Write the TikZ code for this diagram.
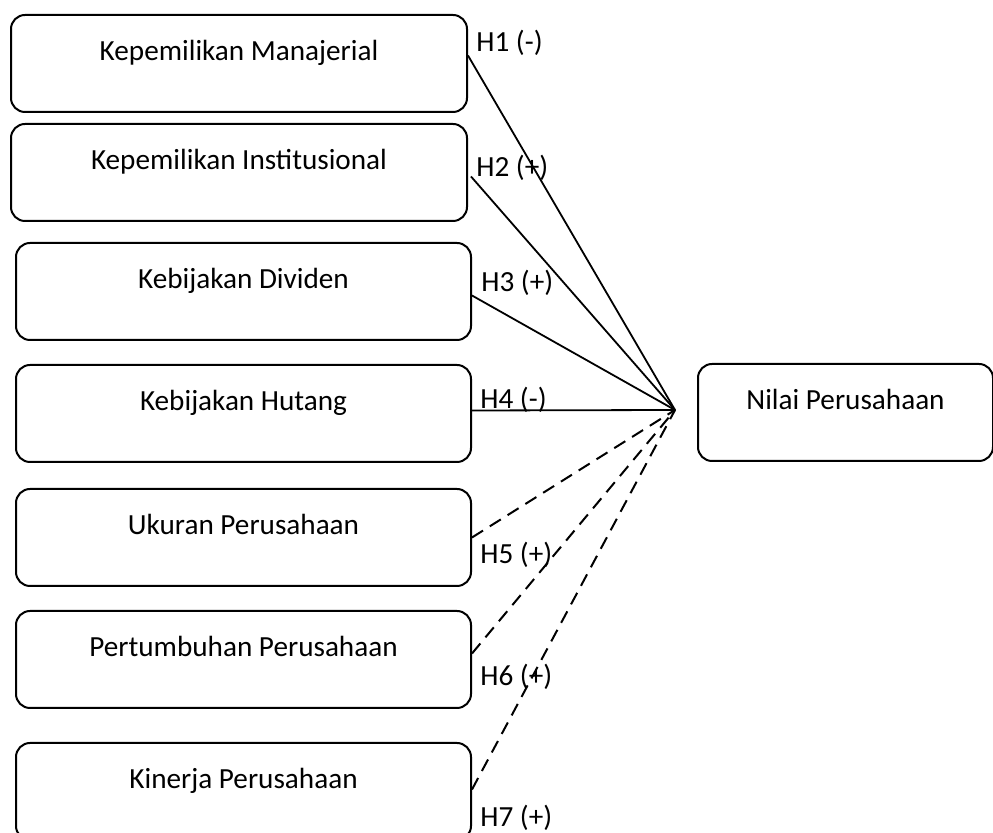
\documentclass[tikz,border=0pt]{standalone}
\usepackage{fontspec}
\setmainfont{Carlito}
\usepackage{tikz}
\usetikzlibrary{positioning,calc}

\begin{document}
\begin{tikzpicture}[
  x=0.5pt,y=-0.5pt,
  font=\fontsize{14.6}{17}\selectfont,
  box/.style={draw,line width=1pt,rounded corners=7pt,anchor=north west,align=center,
    inner sep=0pt,text height=23pt,text depth=25.5pt},
  hyp/.style={anchor=west,inner sep=0pt},
  link/.style={line width=0.9pt},
  weak/.style={link,line width=1pt,dash pattern=on 6.5pt off 4pt}]

\useasboundingbox (0,0) rectangle (993,833);

% independent variables
\node[box,minimum width=228pt] (km) at (10,14) {Kepemilikan Manajerial};
\node[box,minimum width=228pt] (ki) at (10,123) {Kepemilikan Institusional};
\node[box,minimum width=227.5pt] (kd) at (15,242) {Kebijakan Dividen};
\node[box,minimum width=227.5pt] (kh) at (15,364) {Kebijakan Hutang};
\node[box,minimum width=227.5pt] (up) at (15,488) {Ukuran Perusahaan};
\node[box,minimum width=227.5pt] (pp) at (15,610) {Pertumbuhan Perusahaan};
\node[box,minimum width=227.5pt] (kp) at (15,742) {Kinerja Perusahaan};

% dependent variable
\node[box,minimum width=147.5pt] (np) at (697,363) {Nilai Perusahaan};
\coordinate (npin) at (675,410);

% paths
\draw[link] ([yshift=4pt]km.east) -- (npin);
\draw[link] ([xshift=1.5pt,yshift=-2pt]ki.east) -- (npin);
\draw[link] ([yshift=-2pt]kd.east) -- (npin);
\draw[link] ([yshift=1.5pt]kh.east) -- (npin);
\draw[weak] (up.east) -- (npin);
\draw[weak] ([yshift=3pt]pp.east) -- (npin);
\draw[weak] ([yshift=1pt]kp.east) -- (npin);

% hypotheses
\node[hyp] (h1) at (476,43) {H1 (-)};
\node[hyp] (h2) at (476,168) {H2 (+)};
\node[hyp] (h3) at (481,283) {H3 (+)};
\node[hyp] (h4) at (480,400) {H4 (-)};
\node[hyp] (h5) at (480,555) {H5 (+)};
\node[hyp] (h6) at (480,677) {H6 (+)};
\node[hyp] (h7) at (480,818) {H7 (+)};
\end{tikzpicture}
\end{document}
